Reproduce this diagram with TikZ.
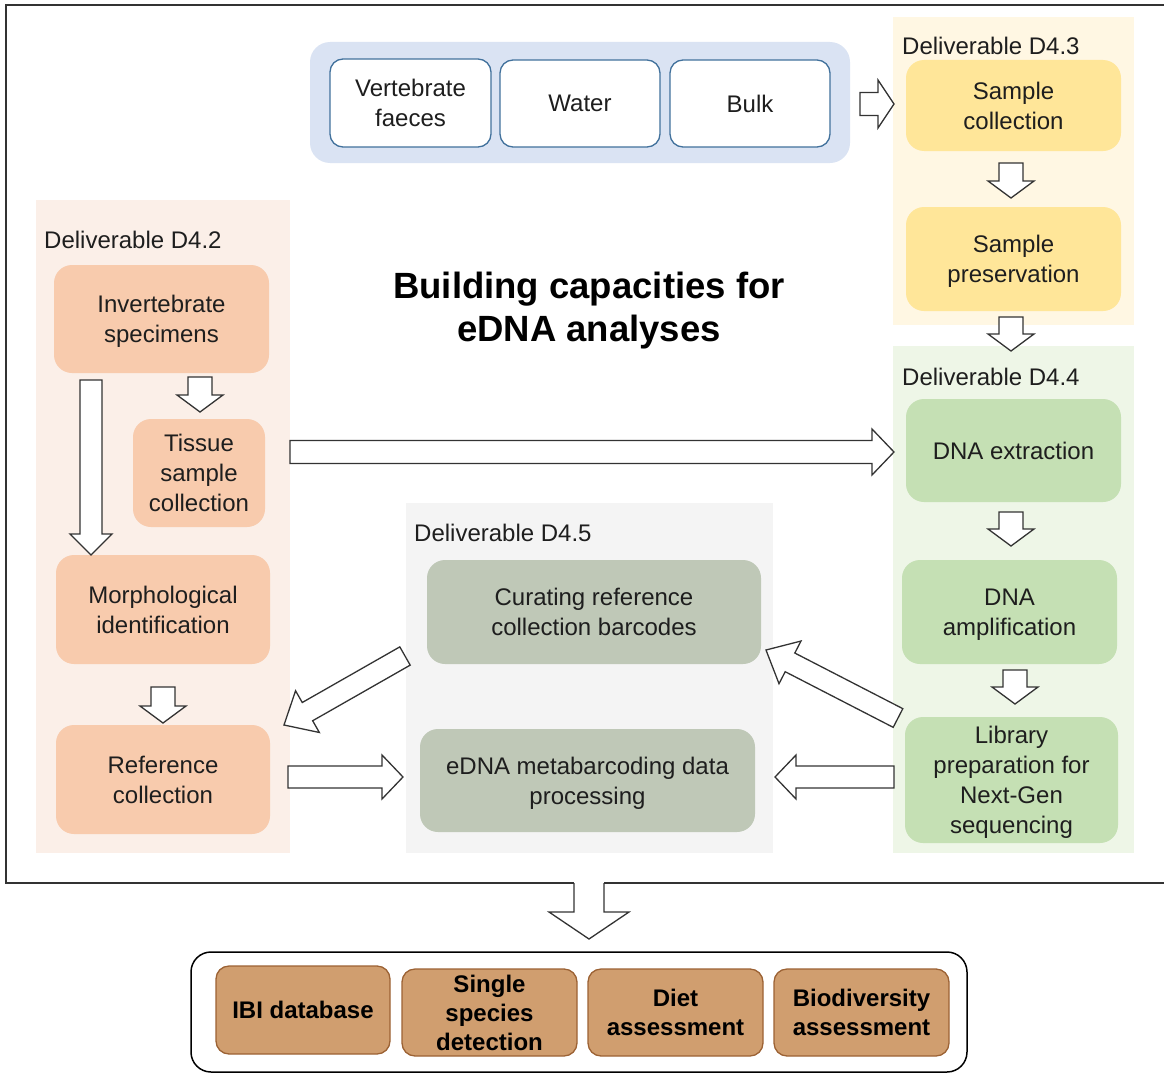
\documentclass[tikz,border=0pt]{standalone}
\usepackage{fontspec}
\setmainfont{Liberation Sans}
\usetikzlibrary{calc}
\definecolor{txt}{HTML}{1E1E1E}
\definecolor{bluebg}{HTML}{DAE3F3}
\definecolor{blueln}{HTML}{41719C}
\definecolor{ypanel}{HTML}{FFF7E3}
\definecolor{ybox}{HTML}{FFE699}
\definecolor{gpanel}{HTML}{EEF6E7}
\definecolor{gbox}{HTML}{C5E0B4}
\definecolor{ppanel}{HTML}{FBEFE8}
\definecolor{pbox}{HTML}{F8CBAD}
\definecolor{spanel}{HTML}{F4F4F4}
\definecolor{sbox}{HTML}{BFC8B7}
\definecolor{tbox}{HTML}{D09E6F}
\definecolor{tline}{HTML}{9C6234}
\definecolor{arrln}{HTML}{333333}
\tikzset{
  base/.style={align=center, inner sep=0pt, text=txt, font=\fontsize{24}{30}\selectfont, text depth=0pt},
  panel/.style={base, rectangle, draw=none},
  wbox/.style={base, rounded corners=13pt, fill=white, draw=blueln, line width=1.3pt},
  cbox/.style={base, rounded corners=18pt, draw=none},
  obox/.style={base, rounded corners=13pt, fill=tbox, draw=tline, line width=1.3pt, text=black,
    font=\fontsize{24}{29}\selectfont\bfseries},
  lbl/.style={base, anchor=west},
  ttl/.style={align=center, inner sep=0pt, text=black, font=\fontsize{36.5}{43}\selectfont\bfseries, text depth=0pt},
  barrow/.style={draw=arrln, fill=white, line width=1.3pt, line join=miter},
}
% block arrow: tail, tip, half shaft, half head, head length
\newcommand\blockarrow[5]{%
  \coordinate (bahead) at ($(#2)!#5!(#1)$);
  \draw[barrow] ($(#1)!#3!90:(#2)$) -- ($(bahead)!#3!90:(#2)$) -- ($(bahead)!#4!90:(#2)$)
    -- (#2) -- ($(bahead)!#4!-90:(#2)$) -- ($(bahead)!#3!-90:(#2)$) -- ($(#1)!#3!-90:(#2)$) -- cycle;}
\begin{document}
\begin{tikzpicture}[x=1pt,y=-1pt]
\useasboundingbox (0,0) rectangle (1164,1073);
% outer frame
\draw[line width=2.2pt, color=arrln] (1170,5) -- (6,5) -- (6,883) -- (574,883);
\draw[line width=2.2pt, color=arrln] (604,883) -- (1170,883);

% source panel
\node[base, rounded corners=20pt, fill=bluebg, minimum width=540pt, minimum height=121pt] (src) at (580,102.5) {};
\node[wbox, minimum width=161pt, minimum height=88pt] (vf) at (410.5,103) {Vertebrate\\faeces};
\node[wbox, minimum width=160pt, minimum height=87pt] (wa) at (580,103.5) {Water};
\node[wbox, minimum width=160pt, minimum height=87pt] (bu) at (750,103.5) {Bulk};

% D4.3
\node[panel, fill=ypanel, minimum width=241pt, minimum height=308pt] (p43) at (1013.5,171) {};
\node[lbl] (l43) at (902,46) {Deliverable D4.3};
\node[cbox, fill=ybox, minimum width=215pt, minimum height=91pt] (sc) at (1013.5,105.5) {Sample\\collection};
\node[cbox, fill=ybox, minimum width=215pt, minimum height=104pt] (sp) at (1013.5,259) {Sample\\preservation};

% D4.4
\node[panel, fill=gpanel, minimum width=241pt, minimum height=507pt] (p44) at (1013.5,599.5) {};
\node[lbl] (l44) at (902,377) {Deliverable D4.4};
\node[cbox, fill=gbox, minimum width=215pt, minimum height=103pt] (dx) at (1013.5,450.5) {DNA extraction};
\node[cbox, fill=gbox, minimum width=215pt, minimum height=104pt] (amp) at (1009.5,612) {DNA\\amplification};
\node[cbox, fill=gbox, minimum width=213pt, minimum height=126pt] (lib) at (1011.5,780) {Library\\preparation for\\Next-Gen\\sequencing};

% D4.2
\node[panel, fill=ppanel, minimum width=254pt, minimum height=653pt] (p42) at (163,526.5) {};
\node[lbl] (l42) at (44,240) {Deliverable D4.2};
\node[cbox, fill=pbox, minimum width=215pt, minimum height=108pt] (inv) at (161.5,319) {Invertebrate\\specimens};
\node[cbox, fill=pbox, minimum width=132pt, minimum height=108pt] (tis) at (199,473) {Tissue\\sample\\collection};
\node[cbox, fill=pbox, minimum width=214pt, minimum height=109pt] (mor) at (163,609.5) {Morphological\\identification};
\node[cbox, fill=pbox, minimum width=214pt, minimum height=109pt] (ref) at (163,779.5) {Reference\\collection};

% D4.5
\node[panel, fill=spanel, minimum width=367pt, minimum height=350pt] (p45) at (589.5,678) {};
\node[lbl] (l45) at (414,533) {Deliverable D4.5};
\node[cbox, fill=sbox, minimum width=334pt, minimum height=104pt] (cur) at (594,612) {Curating reference\\collection barcodes};
\node[cbox, fill=sbox, minimum width=335pt, minimum height=103pt] (edna) at (587.5,780.5) {eDNA metabarcoding data\\processing};

% title
\node[ttl] (title) at (589,306.5) {Building capacities for\\eDNA analyses};

% bottom outputs
\node[base, rounded corners=20pt, draw=black, line width=1.5pt, fill=white, minimum width=776pt, minimum height=120pt] (out) at (579,1012) {};
\node[obox, minimum width=174pt, minimum height=88pt] (ibi) at (303,1010) {IBI database};
\node[obox, minimum width=175pt, minimum height=87pt] (ssd) at (489.5,1012.5) {Single\\species\\detection};
\node[obox, minimum width=175pt, minimum height=87pt] (diet) at (675.5,1012.5) {Diet\\assessment};
\node[obox, minimum width=175pt, minimum height=87pt] (bio) at (861.5,1012.5) {Biodiversity\\assessment};

% arrow end points
\coordinate (a1s) at (860,104);   \coordinate (a1e) at (894,104);
\coordinate (a2s) at (1011,163);  \coordinate (a2e) at (1011,198);
\coordinate (a3s) at (1011,317);  \coordinate (a3e) at (1011,351);
\coordinate (a4s) at (1011,512);  \coordinate (a4e) at (1011,546);
\coordinate (a5s) at (1015,670);  \coordinate (a5e) at (1015,704);
\coordinate (a6s) at (200,377);   \coordinate (a6e) at (200,412);
\coordinate (a7s) at (91,380);    \coordinate (a7e) at (91,555);
\coordinate (a8s) at (163,687);   \coordinate (a8e) at (163,723);
\coordinate (a9s) at (290,452);   \coordinate (a9e) at (894,452);
\coordinate (a10s) at (405,656);  \coordinate (a10e) at (284,725);
\coordinate (a11s) at (898,718);  \coordinate (a11e) at (766,650);
\coordinate (a12s) at (288,777);  \coordinate (a12e) at (403,777);
\coordinate (a13s) at (894,777);  \coordinate (a13e) at (775,777);

\blockarrow{a1s}{a1e}{11.5pt}{24pt}{16pt}
\blockarrow{a2s}{a2e}{12pt}{23pt}{17pt}
\blockarrow{a3s}{a3e}{12pt}{23pt}{17pt}
\blockarrow{a4s}{a4e}{12pt}{23pt}{17pt}
\blockarrow{a5s}{a5e}{12pt}{23pt}{17pt}
\blockarrow{a6s}{a6e}{12pt}{23pt}{17pt}
\blockarrow{a7s}{a7e}{11pt}{21pt}{21pt}
\blockarrow{a8s}{a8e}{12pt}{23pt}{17pt}
\blockarrow{a9s}{a9e}{11.5pt}{23pt}{22pt}
\blockarrow{a10s}{a10e}{10.5pt}{24pt}{27pt}
\blockarrow{a11s}{a11e}{10.5pt}{24pt}{27pt}
\blockarrow{a12s}{a12e}{11pt}{22pt}{21pt}
\blockarrow{a13s}{a13e}{11pt}{22pt}{21pt}

% big down arrow from frame to outputs
\coordinate (bds) at (589,883); \coordinate (bde) at (589,939);
\fill[white] ($(bds)+(-15,1)$) -- ($(bds)+(-15,29)$) -- ($(bds)+(-40,29)$) -- (bde)
  -- ($(bds)+(40,29)$) -- ($(bds)+(15,29)$) -- ($(bds)+(15,1)$) -- cycle;
\draw[barrow, fill=none] ($(bds)+(-15,0)$) -- ($(bds)+(-15,29)$) -- ($(bds)+(-40,29)$) -- (bde)
  -- ($(bds)+(40,29)$) -- ($(bds)+(15,29)$) -- ($(bds)+(15,0)$);
\end{tikzpicture}
\end{document}
